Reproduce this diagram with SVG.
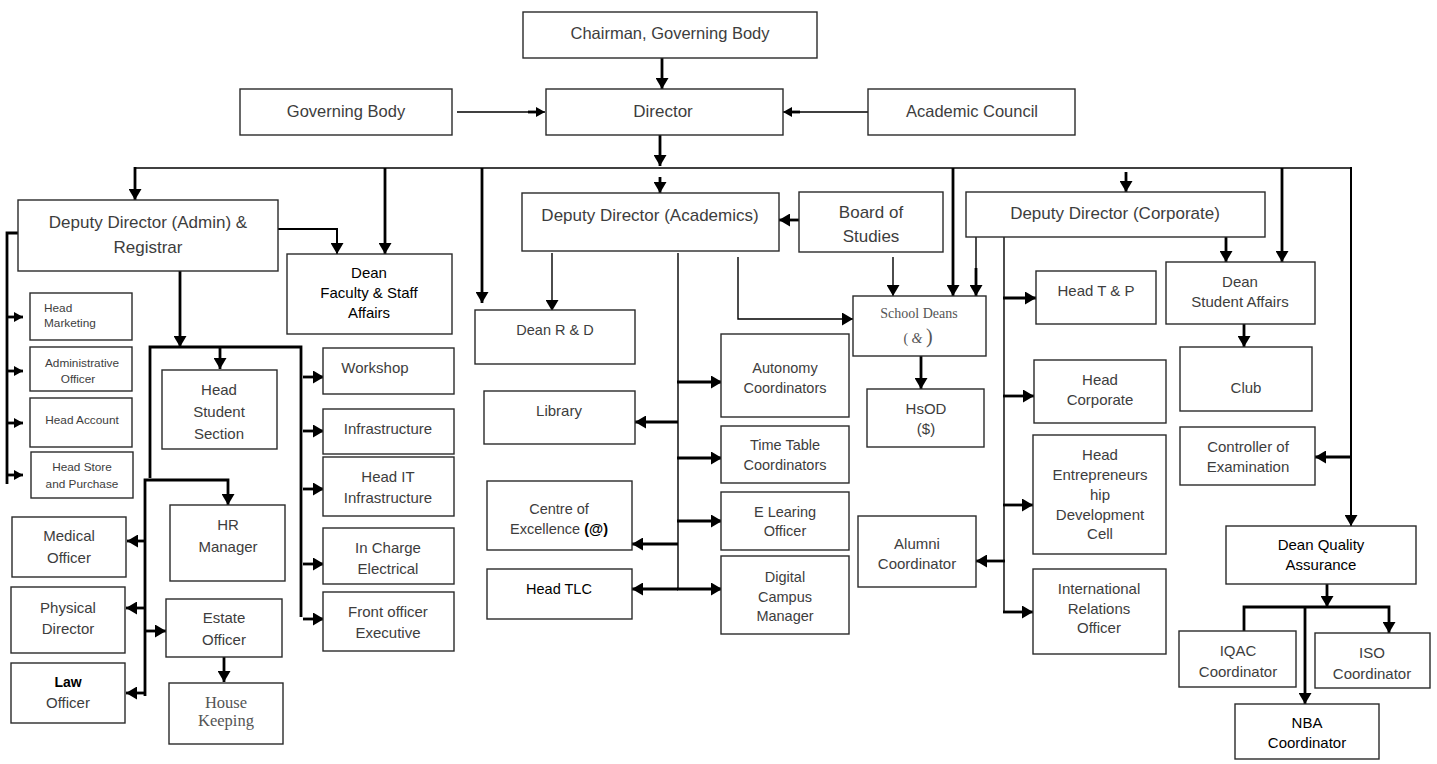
<svg xmlns="http://www.w3.org/2000/svg" width="1437" height="764" viewBox="0 0 1437 764">
<style>
rect{fill:#fff;stroke:#2a2a2a;stroke-width:1.4}
text{font-family:"Liberation Sans",Arial,sans-serif;fill:#3d3d3d;text-anchor:middle;font-size:15px}
.k{fill:#000}
.f17{font-size:17px}
.f16{font-size:16.5px}
.f14{font-size:14.5px}
.f12{font-size:11.8px}
.serif{font-family:"Liberation Serif","Times New Roman",serif;fill:#555}
.cn path{fill:none;stroke:#000;stroke-linecap:butt;stroke-linejoin:miter}
.tk{stroke-width:2.8}
.md{stroke-width:2}
.tn{stroke-width:1.4}
.ar{marker-end:url(#a)}
.as{marker-end:url(#s)}
</style>
<defs>
<marker id="a" viewBox="0 0 11 13" refX="11" refY="6.5" markerWidth="11" markerHeight="13" markerUnits="userSpaceOnUse" orient="auto"><path d="M0,0 L11,6.5 L0,13 z" fill="#000"/></marker>
<marker id="s" viewBox="0 0 9 10" refX="9" refY="5" markerWidth="9" markerHeight="10" markerUnits="userSpaceOnUse" orient="auto"><path d="M0,0 L9,5 L0,10 z" fill="#000"/></marker>
</defs>
<rect x="0" y="0" width="1437" height="764" style="stroke:none;fill:#fff"/>

<g class="cn" id="connectors">
<path class="tk ar" d="M662,58 V89"/>
<path class="tn as" d="M457,112 H545"/>
<path class="tk" d="M528,112 H536"/>
<path class="tn as" d="M868,112 H783"/>
<path class="tk" d="M800,112 H790"/>
<path class="tk ar" d="M660,135 V166"/>
<path class="tn" d="M135,168 H1351"/>
<path class="tk ar" d="M135,167 V200"/>
<path class="tk ar" d="M385,168 V254"/>
<path class="tk ar" d="M482,168 V303"/>
<path class="tk ar" d="M660,177 V193"/>
<path class="tk ar" d="M953,168 V296"/>
<path class="tk ar" d="M1126,172 V192"/>
<path class="tk ar" d="M1282,168 V262"/>
<path class="md ar" d="M1351,167 V526"/>
<path class="tk ar" d="M1352,457 H1315"/>
<path class="md ar" d="M278,229 H337 V254"/>
<path class="tk" d="M18,233 H7 V484"/>
<path class="tk as" d="M7,317 H23"/>
<path class="tk as" d="M7,371 H23"/>
<path class="tk as" d="M7,423 H23"/>
<path class="tk as" d="M7,475 H23"/>
<path class="tk ar" d="M180,271 V347"/>
<path class="tk" d="M150,478 V347 H301 V617"/>
<path class="tk ar" d="M220,347 V369"/>
<path class="tk ar" d="M145,696 V480 H228 V505"/>
<path class="tk ar" d="M303,377 H324"/>
<path class="tk ar" d="M303,431 H324"/>
<path class="tk ar" d="M303,489 H324"/>
<path class="tk ar" d="M303,564 H324"/>
<path class="tk ar" d="M303,619 H324"/>
<path class="tk ar" d="M145,541 H127"/>
<path class="tk ar" d="M145,608 H126"/>
<path class="tk ar" d="M145,693 H126"/>
<path class="tk ar" d="M145,631 H166"/>
<path class="tk ar" d="M224,657 V682"/>
<path class="tk ar" d="M799,220 H779"/>
<path class="tn ar" d="M552,253 V311"/>
<path class="tn" d="M678,253 V590"/>
<path class="tk ar" d="M677,382 H722"/>
<path class="tk ar" d="M678,422 H635"/>
<path class="tk ar" d="M677,458 H722"/>
<path class="tk ar" d="M677,521 H722"/>
<path class="tk ar" d="M678,544 H632"/>
<path class="tk ar" d="M678,589 H632"/>
<path class="tk ar" d="M677,589 H722"/>
<path class="tn ar" d="M738,257 V319 H853"/>
<path class="tn ar" d="M893,257 V296"/>
<path class="tn" d="M976,237 V270"/>
<path class="tk ar" d="M976,268 V296"/>
<path class="tk ar" d="M921,356 V389"/>
<path class="tn" d="M1004,237 V613"/>
<path class="tk ar" d="M1003,298 H1036"/>
<path class="tk ar" d="M1003,396 H1034"/>
<path class="tk ar" d="M1003,505 H1033"/>
<path class="tk ar" d="M1005,561 H976"/>
<path class="tk ar" d="M1003,612 H1033"/>
<path class="tk ar" d="M1226,237 V262"/>
<path class="tk ar" d="M1244,324 V347"/>
<path class="tk ar" d="M1327,584 V607"/>
<path class="tk ar" d="M1244,632 V607 H1389 V633"/>
<path class="tk ar" d="M1305,607 V704"/>
</g>

<g id="n-chairman"><rect x="523" y="12" width="294" height="46"/><text class="f16" x="670" y="39">Chairman, Governing Body</text></g>
<g id="n-director"><rect x="546" y="89" width="237" height="46"/><text class="f17" x="663" y="117">Director</text></g>
<g id="n-governing"><rect x="240" y="89" width="212" height="46"/><text class="f16" x="346" y="117">Governing Body</text></g>
<g id="n-academic-council"><rect x="868" y="89" width="207" height="46"/><text class="f16" x="972" y="117">Academic Council</text></g>

<g id="n-dd-admin"><rect x="18" y="200" width="260" height="71"/><text class="f17" x="148" y="228">Deputy Director (Admin) &amp;</text><text class="f17" x="148" y="253">Registrar</text></g>
<g id="n-dean-faculty"><rect x="287" y="254" width="165" height="80"/><text class="k" x="369" y="278">Dean</text><text class="k" x="369" y="298">Faculty &amp; Staff</text><text class="k" x="369" y="318">Affairs</text></g>

<g id="n-head-marketing"><rect x="30" y="293" width="102" height="47"/><text class="f12" x="44" y="312" style="text-anchor:start">Head</text><text class="f12" x="44" y="327" style="text-anchor:start">Marketing</text></g>
<g id="n-admin-officer"><rect x="30" y="347" width="102" height="44"/><text class="f12" x="82" y="367">Administrative</text><text class="f12" x="78" y="383">Officer</text></g>
<g id="n-head-account"><rect x="30" y="398" width="102" height="49"/><text class="f12" x="82" y="424">Head Account</text></g>
<g id="n-head-store"><rect x="31" y="452" width="102" height="46"/><text class="f12" x="82" y="471">Head Store</text><text class="f12" x="82" y="488">and Purchase</text></g>

<g id="n-head-student"><rect x="162" y="370" width="115" height="79"/><text x="219" y="395">Head</text><text x="219" y="417">Student</text><text x="219" y="439">Section</text></g>
<g id="n-hr"><rect x="170" y="505" width="115" height="76"/><text x="228" y="530">HR</text><text x="228" y="552">Manager</text></g>
<g id="n-medical"><rect x="12" y="517" width="114" height="60"/><text x="69" y="541">Medical</text><text x="69" y="563">Officer</text></g>
<g id="n-physical"><rect x="11" y="587" width="114" height="66"/><text x="68" y="613">Physical</text><text x="68" y="634">Director</text></g>
<g id="n-law"><rect x="11" y="663" width="114" height="60"/><text class="k" x="68" y="687" style="font-weight:bold;font-size:14px">Law</text><text x="68" y="708">Officer</text></g>
<g id="n-estate"><rect x="166" y="599" width="116" height="58"/><text x="224" y="623">Estate</text><text x="224" y="645">Officer</text></g>
<g id="n-house"><rect x="169" y="683" width="114" height="61"/><text class="serif" x="226" y="708" style="font-size:16.5px">House</text><text class="serif" x="226" y="726" style="font-size:16.5px">Keeping</text></g>

<g id="n-workshop"><rect x="323" y="348" width="131" height="46"/><text x="375" y="373">Workshop</text></g>
<g id="n-infra"><rect x="323" y="409" width="131" height="45"/><text x="388" y="434">Infrastructure</text></g>
<g id="n-head-it"><rect x="323" y="457" width="131" height="59"/><text x="388" y="482">Head IT</text><text x="388" y="503">Infrastructure</text></g>
<g id="n-electrical"><rect x="323" y="528" width="131" height="56"/><text x="388" y="553">In Charge</text><text x="388" y="574">Electrical</text></g>
<g id="n-front"><rect x="323" y="592" width="131" height="59"/><text x="388" y="617">Front officer</text><text x="388" y="638">Executive</text></g>

<g id="n-dd-acad"><rect x="522" y="193" width="257" height="58"/><text class="f17" x="650" y="221">Deputy Director (Academics)</text></g>
<g id="n-bos"><rect x="799" y="192" width="144" height="60"/><text class="f17" x="871" y="218">Board of</text><text class="f17" x="871" y="242">Studies</text></g>
<g id="n-rd"><rect x="475" y="310" width="160" height="54"/><text class="f14" x="555" y="335">Dean R &amp; D</text></g>
<g id="n-library"><rect x="484" y="391" width="151" height="53"/><text x="559" y="416">Library</text></g>
<g id="n-autonomy"><rect x="721" y="334" width="128" height="83"/><text class="f14" x="785" y="373">Autonomy</text><text class="f14" x="785" y="393">Coordinators</text></g>
<g id="n-timetable"><rect x="721" y="426" width="128" height="57"/><text class="f14" x="785" y="450">Time Table</text><text class="f14" x="785" y="470">Coordinators</text></g>
<g id="n-elearning"><rect x="721" y="492" width="128" height="58"/><text class="f14" x="785" y="517">E Learing</text><text class="f14" x="785" y="536">Officer</text></g>
<g id="n-digital"><rect x="721" y="556" width="128" height="78"/><text class="f14" x="785" y="582">Digital</text><text class="f14" x="785" y="602">Campus</text><text class="f14" x="785" y="621">Manager</text></g>
<g id="n-coe"><rect x="487" y="481" width="145" height="69"/><text class="f14" x="559" y="514">Centre of</text><text class="f14" x="559" y="534">Excellence <tspan class="k" style="font-weight:bold">(@)</tspan></text></g>
<g id="n-tlc"><rect x="487" y="569" width="145" height="50"/><text class="k f14" x="559" y="594">Head TLC</text></g>

<g id="n-school-deans"><rect x="853" y="296" width="133" height="60"/><text class="serif" x="919" y="318" style="font-size:14px">School Deans</text><text class="serif" x="918" y="343" style="font-size:14px">( <tspan style="font-style:italic">&amp;</tspan> <tspan style="font-size:20px">)</tspan></text></g>
<g id="n-hsod"><rect x="867" y="389" width="117" height="58"/><text x="926" y="414">HsOD</text><text x="926" y="434">($)</text></g>

<g id="n-dd-corp"><rect x="966" y="192" width="299" height="45"/><text class="f17" x="1115" y="219">Deputy Director (Corporate)</text></g>
<g id="n-tp"><rect x="1036" y="271" width="120" height="53"/><text x="1096" y="296">Head T &amp; P</text></g>
<g id="n-dean-sa"><rect x="1166" y="262" width="149" height="62"/><text x="1240" y="287">Dean</text><text x="1240" y="307">Student Affairs</text></g>
<g id="n-club"><rect x="1180" y="347" width="132" height="64"/><text x="1246" y="393">Club</text></g>
<g id="n-head-corp"><rect x="1034" y="360" width="132" height="63"/><text x="1100" y="385">Head</text><text x="1100" y="405">Corporate</text></g>
<g id="n-coe-exam"><rect x="1180" y="427" width="135" height="58"/><text x="1248" y="452">Controller of</text><text x="1248" y="472">Examination</text></g>
<g id="n-ent"><rect x="1033" y="435" width="133" height="119"/><text x="1100" y="460">Head</text><text x="1100" y="480">Entrepreneurs</text><text x="1100" y="500">hip</text><text x="1100" y="520">Development</text><text x="1100" y="539">Cell</text></g>
<g id="n-intl"><rect x="1033" y="569" width="133" height="85"/><text x="1099" y="594">International</text><text x="1099" y="614">Relations</text><text x="1099" y="633">Officer</text></g>
<g id="n-alumni"><rect x="858" y="516" width="118" height="71"/><text x="917" y="549">Alumni</text><text x="917" y="569">Coordinator</text></g>

<g id="n-dean-qa"><rect x="1226" y="526" width="190" height="58"/><text class="k" x="1321" y="550">Dean Quality</text><text class="k" x="1321" y="570">Assurance</text></g>
<g id="n-iqac"><rect x="1179" y="631" width="117" height="56"/><text x="1238" y="656">IQAC</text><text x="1238" y="677">Coordinator</text></g>
<g id="n-iso"><rect x="1315" y="633" width="115" height="55"/><text x="1372" y="658">ISO</text><text x="1372" y="679">Coordinator</text></g>
<g id="n-nba"><rect x="1235" y="704" width="144" height="55"/><text class="k" x="1307" y="728">NBA</text><text class="k" x="1307" y="748">Coordinator</text></g>
</svg>
